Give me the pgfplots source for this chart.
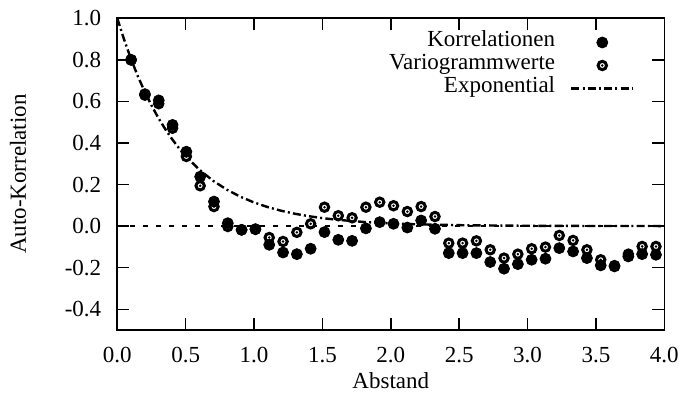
\documentclass[border=0pt]{standalone}
\usepackage{fontspec}
\setmainfont{Liberation Serif}
\usepackage{pgfplots}
\pgfplotsset{compat=1.18}

% open ring with a small black centre dot
\pgfdeclareplotmark{ringdot}{%
  \pgfpathcircle{\pgfpointorigin}{2.1pt}%
  \pgfsetlinewidth{1.5pt}%
  \pgfsetstrokecolor{black}\pgfsetfillcolor{white}%
  \pgfusepathqfillstroke
  \pgfpathcircle{\pgfpointorigin}{0.7pt}%
  \pgfsetfillcolor{black}\pgfusepathqfill}

\pgfplotstableread{
x      korr    vario
0.101  0.800   0.800
0.202  0.635   0.630
0.303  0.605   0.589
0.404  0.487   0.471
0.505  0.358   0.335
0.606  0.238   0.194
0.707  0.118   0.094
0.808  0.014  -0.002
0.909 -0.018  -0.018
1.010 -0.015  -0.015
1.111 -0.090  -0.055
1.212 -0.127  -0.074
1.313 -0.135  -0.030
1.414 -0.109   0.011
1.515 -0.029   0.091
1.616 -0.066   0.050
1.717 -0.071   0.040
1.818 -0.011   0.091
1.919  0.019   0.115
2.020  0.011   0.098
2.121 -0.007   0.070
2.222  0.027   0.094
2.323 -0.013   0.046
2.424 -0.130  -0.082
2.525 -0.130  -0.082
2.626 -0.130  -0.071
2.727 -0.173  -0.114
2.828 -0.205  -0.154
2.929 -0.183  -0.135
3.030 -0.162  -0.109
3.131 -0.157  -0.101
3.232 -0.106  -0.045
3.333 -0.122  -0.069
3.434 -0.154  -0.114
3.535 -0.189  -0.162
3.636 -0.194  -0.190
3.737 -0.146  -0.135
3.838 -0.135  -0.098
3.939 -0.138  -0.098
}\autokorr

% fitted exponential model exp(-h/0.46)
\pgfplotstableread{
h     c
0.00  1.0000
0.05  0.8970
0.10  0.8046
0.15  0.7217
0.20  0.6473
0.25  0.5807
0.30  0.5209
0.35  0.4673
0.40  0.4191
0.45  0.3760
0.50  0.3372
0.60  0.2714
0.70  0.2183
0.80  0.1757
0.90  0.1413
1.00  0.1137
1.10  0.0915
1.20  0.0736
1.30  0.0592
1.40  0.0477
1.50  0.0384
1.60  0.0309
1.80  0.0200
2.00  0.0129
2.20  0.0084
2.50  0.0044
3.00  0.0015
3.50  0.0005
4.00  0.0002
}\expmodel

\tikzset{expline/.style={black, line width=1.2pt, dash pattern=on 4pt off 1.6pt on 1pt off 1.6pt}}

\begin{document}
\fontsize{11.5}{13.8}\selectfont
\begin{tikzpicture}
\begin{axis}[
  scale only axis,
  width=273.5pt, height=155.85pt,
  xmin=0, xmax=4, ymin=-0.5, ymax=1.0,
  xtick={0,0.5,1,1.5,2,2.5,3,3.5,4},
  ytick={-0.4,-0.2,0,0.2,0.4,0.6,0.8,1.0},
  /pgf/number format/fixed,
  /pgf/number format/fixed zerofill,
  /pgf/number format/precision=1,
  /pgf/number format/assume math mode=true,
  tick align=inside,
  major tick length=6pt,
  tick style={black, line width=0.7pt},
  axis line style={line width=0.8pt},
  xticklabel style={yshift=-4.5pt},
  yticklabel style={xshift=-4pt},
  xlabel={Abstand},
  ylabel={Auto-Korrelation},
  xlabel style={at={(axis description cs:0.5,0)}, anchor=center, yshift=-25.5pt},
  ylabel style={at={(axis description cs:0,0.5)}, anchor=center, yshift=49.7pt},
  legend image code/.code={\draw[mark repeat=2,mark phase=2,#1] plot coordinates {(0pt,0pt) (15.5pt,0pt) (31pt,0pt)};},
  legend style={at={(axis description cs:1,1)}, anchor=north east,
    xshift=-14.7pt, yshift=-6.15pt, draw=none, fill=none,
    inner sep=0pt, column sep=7.5pt, row sep=0pt,
    nodes={inner sep=0pt, text height=8pt, text depth=3.5pt}},
  legend cell align=right,
  legend plot pos=right,
]
\addlegendimage{only marks, mark=*, mark size=2.75pt, black}
\addlegendentry{Korrelationen}
\addlegendimage{only marks, mark=ringdot}
\addlegendentry{Variogrammwerte}
\addlegendimage{expline}
\addlegendentry{Exponential}

% zero reference line
\addplot[black, line width=0.7pt, dash pattern=on 2.5pt off 4pt, forget plot]
  coordinates {(0,0) (4,0)};
\addplot[only marks, mark=ringdot, forget plot] table[x=x, y=vario] {\autokorr};
\addplot[only marks, mark=*, mark size=2.75pt, black, forget plot] table[x=x, y=korr] {\autokorr};
\addplot[expline, forget plot] table[x=h, y=c] {\expmodel};
\end{axis}
\path ([shift={(-58.65pt,-35pt)}]current axis.south west)
  rectangle ([shift={(14.85pt,9.15pt)}]current axis.north east);
\end{tikzpicture}
\end{document}
